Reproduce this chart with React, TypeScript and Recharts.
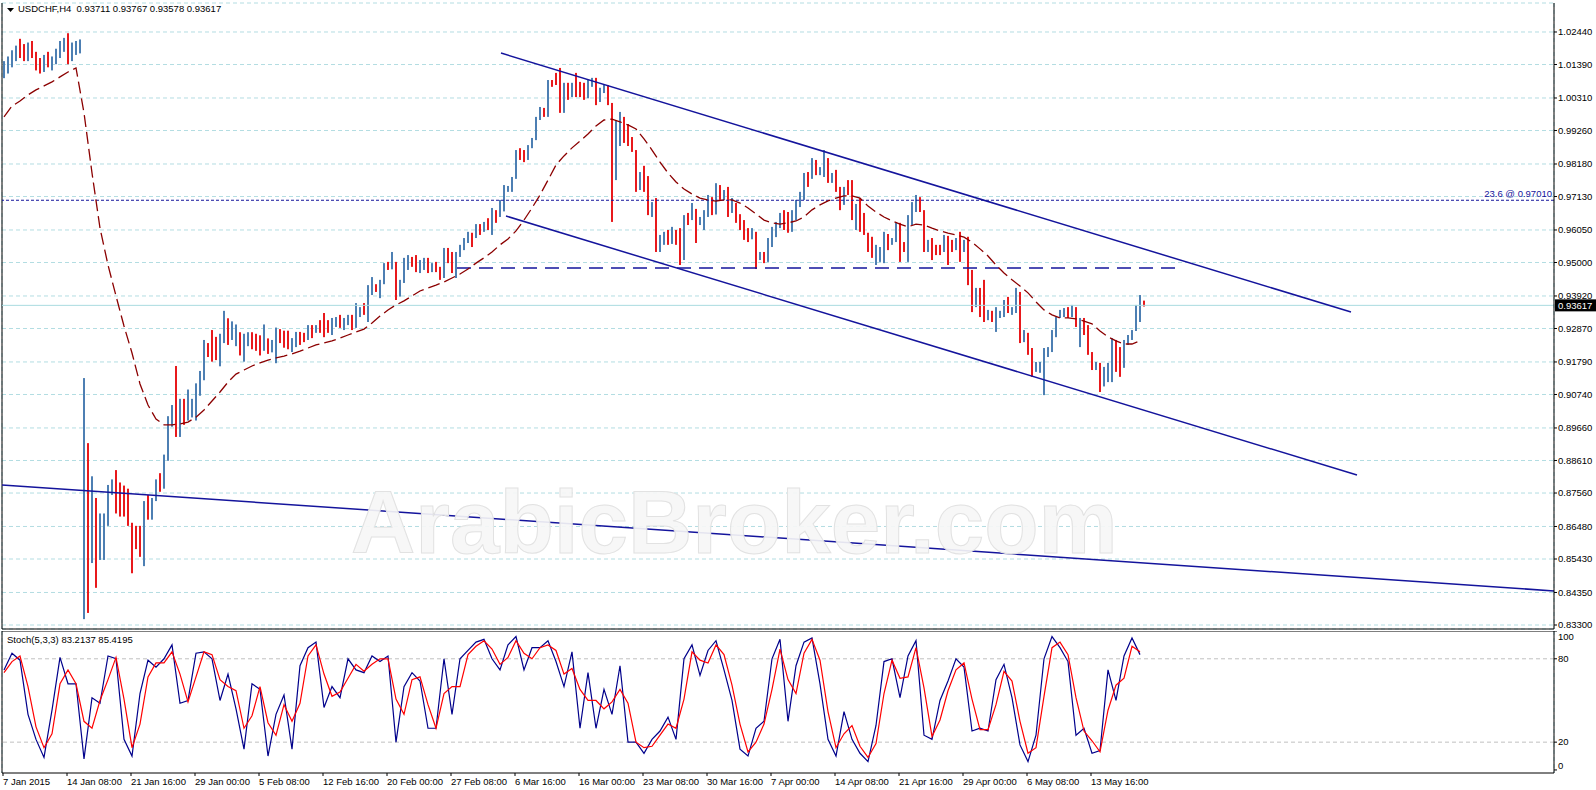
import React from "react";
import {
  ComposedChart,
  Bar,
  Line,
  XAxis,
  YAxis,
  CartesianGrid,
  ReferenceLine,
} from "recharts";

const FONT = "'Liberation Sans', Arial, sans-serif";
const GRID = "#b3dde2";
const NAVY = "#14149c";
const UP = "#4d7fb3";
const DOWN = "#e8191c";
const SLOTS = 776; // H4 slots across the plot

const barOpen = [
  10110, 10140, 10155, 10175, 10190, 10170, 10160, 10200, 10170, 10130,
  10120, 10160, 10140, 10150, 10180, 10200, 10210, 10150, 10190, 10200,
  8720, 8800, 8640, 8760, 8560, 8660, 8680, 8770, 8790, 8720,
  8700, 8695, 8660, 8600, 8590, 8560, 8710, 8690, 8735, 8790,
  8780, 8870, 8990, 9000, 8990, 9040, 8990, 9010, 9050, 9080,
  9140, 9240, 9205, 9200, 9195, 9240, 9320, 9250, 9265, 9270,
  9250, 9260, 9270, 9255, 9240, 9220, 9280, 9220, 9225, 9280,
  9250, 9240, 9230, 9250, 9266, 9256, 9253, 9295, 9273, 9295,
  9289, 9282, 9279, 9314, 9321, 9295, 9302, 9327, 9314, 9340,
  9353, 9347, 9421, 9430, 9411, 9437, 9495, 9482, 9502, 9392,
  9440, 9482, 9502, 9495, 9476, 9502, 9508, 9476, 9489, 9482,
  9456, 9540, 9521, 9476, 9524, 9553, 9576, 9586, 9579, 9621,
  9608, 9628, 9621, 9653, 9650, 9669, 9744, 9747, 9773, 9857,
  9840, 9831, 9873, 9899, 9966, 9983, 9976, 10083, 10076, 10073,
  10008, 10064, 10044, 10076, 10057, 10044, 10038, 10083, 10092, 10018,
  10060, 10070, 10015, 9815, 9944, 9970, 9947, 9879, 9863, 9782,
  9789, 9741, 9663, 9689, 9547, 9586, 9596, 9563, 9589, 9566,
  9515, 9647, 9640, 9673, 9637, 9643, 9663, 9711, 9660, 9750,
  9708, 9721, 9669, 9692, 9656, 9611, 9582, 9579, 9592, 9527,
  9531, 9521, 9573, 9608, 9628, 9656, 9618, 9605, 9663, 9698,
  9724, 9782, 9773, 9831, 9786, 9805, 9815, 9766, 9779, 9741,
  9686, 9737, 9734, 9653, 9663, 9618, 9596, 9540, 9521, 9537,
  9540, 9592, 9570, 9576, 9596, 9557, 9547, 9643, 9689, 9702,
  9669, 9547, 9570, 9557, 9553, 9550, 9586, 9557, 9540, 9573,
  9540, 9570, 9444, 9379, 9408, 9379, 9331, 9344, 9314, 9340,
  9344, 9353, 9347, 9353, 9405, 9250, 9263, 9211, 9147, 9176,
  9179, 9218, 9224, 9276, 9321, 9327, 9350, 9347, 9356, 9298,
  9314, 9273, 9211, 9160, 9176, 9105, 9137, 9169, 9234, 9169,
  9166, 9243, 9263, 9279, 9356, 9371,
];
const barHigh = [
  10150, 10165, 10185, 10200, 10222, 10205, 10210, 10215, 10180, 10160,
  10170, 10180, 10165, 10190, 10215, 10225, 10240, 10210, 10215, 10220,
  9127, 8917, 8810, 8740, 8690, 8690, 8782, 8800, 8830, 8790,
  8780, 8770, 8660, 8650, 8650, 8730, 8750, 8740, 8800, 8820,
  8880, 9004, 9040, 9166, 9060, 9060, 9090, 9060, 9110, 9150,
  9250, 9240, 9282, 9260, 9270, 9344, 9320, 9310, 9300, 9275,
  9270, 9275, 9275, 9270, 9265, 9300, 9255, 9250, 9290, 9285,
  9280, 9280, 9256, 9276, 9276, 9273, 9298, 9298, 9298, 9314,
  9337, 9314, 9321, 9324, 9331, 9321, 9331, 9331, 9369, 9356,
  9369, 9427, 9453, 9430, 9444, 9498, 9502, 9534, 9502, 9444,
  9515, 9524, 9518, 9524, 9508, 9515, 9515, 9498, 9502, 9486,
  9547, 9547, 9534, 9534, 9557, 9579, 9599, 9596, 9624, 9624,
  9631, 9643, 9676, 9669, 9702, 9750, 9747, 9776, 9863, 9869,
  9863, 9879, 9902, 9970, 10002, 9999, 10089, 10089, 10112, 10128,
  10080, 10080, 10080, 10112, 10083, 10080, 10089, 10096, 10096, 10064,
  10073, 10073, 10015, 9957, 9986, 9970, 9947, 9905, 9863, 9792,
  9812, 9779, 9695, 9708, 9589, 9599, 9605, 9615, 9605, 9611,
  9653, 9660, 9692, 9673, 9647, 9669, 9718, 9711, 9756, 9750,
  9734, 9744, 9708, 9692, 9656, 9637, 9611, 9611, 9599, 9534,
  9534, 9579, 9615, 9631, 9660, 9669, 9663, 9669, 9702, 9728,
  9789, 9792, 9837, 9831, 9808, 9863, 9837, 9789, 9799, 9744,
  9744, 9766, 9766, 9689, 9708, 9660, 9596, 9583, 9557, 9550,
  9599, 9592, 9579, 9628, 9628, 9566, 9653, 9695, 9718, 9711,
  9669, 9573, 9579, 9557, 9557, 9589, 9586, 9573, 9579, 9599,
  9573, 9583, 9476, 9418, 9418, 9444, 9347, 9344, 9356, 9344,
  9379, 9389, 9356, 9418, 9405, 9282, 9273, 9224, 9179, 9179,
  9224, 9227, 9282, 9324, 9347, 9353, 9356, 9363, 9356, 9321,
  9321, 9298, 9211, 9179, 9176, 9163, 9176, 9256, 9250, 9227,
  9250, 9266, 9282, 9363, 9395, 9377,
];
const barLow = [
  10095, 10110, 10130, 10150, 10160, 10150, 10150, 10160, 10120, 10110,
  10115, 10130, 10120, 10140, 10160, 10180, 10140, 10150, 10170, 10175,
  8349, 8369, 8530, 8450, 8540, 8540, 8650, 8750, 8690, 8680,
  8680, 8650, 8497, 8575, 8550, 8520, 8670, 8670, 8730, 8760,
  8770, 8860, 8970, 8937, 8937, 8976, 8990, 9000, 8990, 9070,
  9120, 9195, 9180, 9185, 9165, 9240, 9234, 9250, 9230, 9200,
  9180, 9230, 9220, 9215, 9200, 9215, 9205, 9210, 9175, 9240,
  9225, 9220, 9211, 9227, 9234, 9243, 9250, 9256, 9273, 9273,
  9259, 9273, 9266, 9292, 9289, 9282, 9298, 9282, 9289, 9324,
  9331, 9308, 9395, 9405, 9385, 9430, 9476, 9478, 9379, 9390,
  9434, 9476, 9486, 9469, 9466, 9476, 9466, 9469, 9469, 9444,
  9450, 9498, 9466, 9450, 9518, 9540, 9563, 9550, 9579, 9589,
  9599, 9605, 9589, 9628, 9647, 9665, 9728, 9728, 9770, 9831,
  9824, 9831, 9869, 9895, 9960, 9970, 9970, 10067, 10073, 9983,
  9983, 10025, 10034, 10034, 10034, 10025, 10030, 10067, 10008, 10018,
  10047, 10008, 9631, 9766, 9876, 9886, 9876, 9857, 9728, 9734,
  9728, 9653, 9647, 9534, 9534, 9557, 9557, 9560, 9557, 9492,
  9508, 9621, 9637, 9563, 9621, 9605, 9647, 9653, 9655, 9702,
  9702, 9647, 9660, 9628, 9605, 9573, 9566, 9575, 9479, 9508,
  9498, 9502, 9550, 9582, 9611, 9605, 9596, 9599, 9637, 9679,
  9702, 9744, 9770, 9782, 9782, 9776, 9757, 9757, 9728, 9669,
  9686, 9718, 9637, 9605, 9599, 9589, 9534, 9515, 9492, 9502,
  9498, 9540, 9557, 9566, 9502, 9534, 9502, 9621, 9663, 9663,
  9534, 9534, 9508, 9524, 9524, 9534, 9492, 9534, 9540, 9502,
  9534, 9427, 9340, 9356, 9324, 9308, 9314, 9308, 9276, 9321,
  9324, 9337, 9331, 9337, 9240, 9243, 9202, 9131, 9147, 9144,
  9072, 9195, 9211, 9259, 9321, 9324, 9321, 9324, 9292, 9227,
  9266, 9202, 9153, 9153, 9082, 9100, 9114, 9114, 9147, 9131,
  9160, 9234, 9250, 9279, 9308, 9358,
];
const barClose = [
  10140, 10155, 10175, 10190, 10170, 10160, 10200, 10170, 10130, 10120,
  10160, 10140, 10150, 10180, 10200, 10210, 10150, 10190, 10200, 10205,
  8800, 8640, 8760, 8560, 8660, 8680, 8770, 8790, 8720, 8700,
  8695, 8660, 8600, 8590, 8560, 8710, 8690, 8735, 8790, 8780,
  8870, 8990, 9000, 8990, 9040, 8990, 9010, 9050, 9080, 9140,
  9240, 9205, 9200, 9195, 9240, 9320, 9250, 9265, 9270, 9250,
  9260, 9270, 9255, 9240, 9220, 9280, 9220, 9225, 9280, 9250,
  9240, 9230, 9250, 9266, 9256, 9253, 9295, 9273, 9295, 9289,
  9282, 9279, 9314, 9321, 9295, 9302, 9327, 9314, 9340, 9353,
  9347, 9421, 9430, 9411, 9437, 9495, 9482, 9502, 9392, 9440,
  9482, 9502, 9495, 9476, 9502, 9508, 9476, 9489, 9482, 9456,
  9540, 9521, 9476, 9524, 9553, 9576, 9586, 9579, 9621, 9608,
  9628, 9621, 9653, 9650, 9669, 9744, 9747, 9773, 9857, 9840,
  9831, 9873, 9899, 9966, 9983, 9976, 10083, 10076, 10073, 10008,
  10064, 10044, 10076, 10057, 10044, 10038, 10083, 10092, 10018, 10060,
  10070, 10015, 9815, 9944, 9970, 9947, 9879, 9863, 9782, 9789,
  9741, 9663, 9689, 9547, 9586, 9596, 9563, 9589, 9566, 9515,
  9647, 9640, 9673, 9637, 9643, 9663, 9711, 9660, 9750, 9708,
  9721, 9669, 9692, 9656, 9611, 9582, 9579, 9592, 9527, 9531,
  9521, 9573, 9608, 9628, 9656, 9618, 9605, 9663, 9698, 9724,
  9782, 9773, 9831, 9786, 9805, 9815, 9766, 9779, 9741, 9686,
  9737, 9734, 9653, 9663, 9618, 9596, 9540, 9521, 9537, 9540,
  9592, 9570, 9576, 9596, 9557, 9547, 9643, 9689, 9702, 9669,
  9547, 9570, 9557, 9553, 9550, 9586, 9557, 9540, 9573, 9540,
  9570, 9444, 9379, 9408, 9379, 9331, 9344, 9314, 9340, 9344,
  9353, 9347, 9353, 9405, 9250, 9263, 9211, 9147, 9176, 9179,
  9218, 9224, 9276, 9321, 9327, 9350, 9347, 9356, 9298, 9314,
  9273, 9211, 9160, 9176, 9105, 9137, 9169, 9234, 9169, 9166,
  9243, 9263, 9279, 9356, 9373, 9362,
];

// moving average (dark red dashed), read at every second bar
const maEveryOther = [
  9970, 10005, 10021, 10041, 10057, 10070, 10083, 10099, 10115, 10128,
  9983, 9789, 9611, 9492, 9392, 9295, 9208, 9108, 9040, 8995,
  8976, 8976, 8979, 8985, 9001, 9024, 9053, 9082, 9114, 9140,
  9153, 9166, 9176, 9185, 9192, 9198, 9205, 9214, 9224, 9234,
  9240, 9247, 9256, 9266, 9276, 9285, 9305, 9327, 9347, 9363,
  9376, 9392, 9408, 9418, 9427, 9437, 9450, 9463, 9479, 9498,
  9515, 9534, 9557, 9576, 9602, 9637, 9676, 9718, 9766, 9815,
  9844, 9870, 9892, 9915, 9941, 9960, 9963, 9954, 9944, 9931,
  9899, 9863, 9824, 9789, 9760, 9737, 9721, 9708, 9702, 9698,
  9702, 9702, 9692, 9676, 9657, 9637, 9628, 9624, 9628, 9634,
  9647, 9670, 9686, 9699, 9708, 9715, 9715, 9708, 9682, 9663,
  9647, 9634, 9624, 9615, 9624, 9621, 9611, 9602, 9595, 9589,
  9582, 9566, 9544, 9521, 9492, 9466, 9444, 9424, 9402, 9373,
  9347, 9331, 9321, 9321, 9318, 9311, 9302, 9279, 9260, 9247,
  9237, 9237, 9247,
];

// Stoch(5,3,3), read at every second bar: main (blue) and signal (red)
const stochMain = [
  72, 84, 79, 40, 22, 9, 43, 81, 62, 62,
  8, 52, 48, 82, 80, 22, 10, 55, 79, 74,
  80, 90, 48, 50, 84, 85, 80, 50, 69, 44,
  15, 62, 58, 10, 40, 54, 15, 75, 88, 92,
  45, 60, 52, 80, 72, 70, 82, 78, 82, 20,
  60, 70, 64, 30, 30, 80, 40, 80, 86, 92,
  94, 80, 72, 90, 96, 72, 88, 88, 93, 78,
  60, 85, 30, 70, 30, 58, 40, 75, 20, 20,
  12, 22, 28, 38, 22, 80, 90, 68, 86, 93,
  72, 50, 15, 10, 30, 35, 80, 94, 35, 75,
  92, 95, 62, 22, 10, 42, 22, 12, 6, 32,
  78, 80, 52, 82, 93, 25, 22, 50, 64, 80,
  74, 28, 30, 28, 65, 76, 52, 18, 6, 25,
  80, 96, 88, 78, 25, 30, 12, 14, 72, 50,
  82, 95, 83,
];
const stochSignal = [
  70, 78, 82, 60, 31, 16, 26, 62, 72, 62,
  35, 30, 50, 65, 81, 51, 16, 33, 67, 77,
  77, 85, 69, 49, 67, 85, 83, 65, 60, 57,
  30, 39, 60, 34, 25, 47, 35, 48, 82, 90,
  69, 53, 56, 66, 76, 71, 76, 80, 80, 51,
  40, 65, 67, 47, 30, 55, 60, 60, 83, 89,
  93, 87, 76, 81, 93, 84, 80, 88, 90, 86,
  69, 73, 58, 50, 50, 44, 49, 58, 48, 20,
  16, 17, 25, 33, 30, 51, 85, 79, 77, 90,
  83, 61, 33, 13, 20, 33, 58, 87, 65, 55,
  84, 94, 79, 42, 16, 26, 32, 17, 9, 19,
  55, 79, 66, 67, 88, 59, 24, 36, 57, 72,
  77, 51, 29, 29, 47, 71, 64, 35, 12, 16,
  53, 88, 92, 83, 52, 28, 21, 13, 43, 61,
  66, 89, 85,
];

const priceTicks = [
  1.0244, 1.0139, 1.0031, 0.9926, 0.9818, 0.9713, 0.9605, 0.95, 0.9392, 0.9287,
  0.9179, 0.9074, 0.8966, 0.8861, 0.8756, 0.8648, 0.8543, 0.8435, 0.833,
];
const timeLabels = [
  "7 Jan 2015", "14 Jan 08:00", "21 Jan 16:00", "29 Jan 00:00", "5 Feb 08:00",
  "12 Feb 16:00", "20 Feb 00:00", "27 Feb 08:00", "6 Mar 16:00", "16 Mar 00:00",
  "23 Mar 08:00", "30 Mar 16:00", "7 Apr 00:00", "14 Apr 08:00", "21 Apr 16:00",
  "29 Apr 00:00", "6 May 08:00", "13 May 16:00",
];

const lastPrice = 0.93617;
const fiboLevel = 0.9701;
const supportLevel = 0.9482;
const supportSpan = [227.5, 589.5];
const trendLines = [
  [{ x: 249.5, y: 1.0176 }, { x: 674.5, y: 0.934 }],
  [{ x: 252, y: 0.965 }, { x: 677.5, y: 0.8814 }],
  [{ x: 0, y: 0.8782 }, { x: 776, y: 0.844 }],
];

const PRICE_DOMAIN = [0.83171, 1.03376];
const gridSlots = Array.from({ length: 49 }, (_, k) => 0.5 + 16 * k);
const timeTicks = timeLabels.map((_, k) => 0.5 + 32 * k);

const bars = barClose.map((c, i) => ({
  slot: 1 + 2 * i,
  range: [barLow[i] / 10000, barHigh[i] / 10000],
  up: c >= barOpen[i],
  ma: i % 2 === 0 ? maEveryOther[i / 2] / 10000 : null,
}));
const stochRows = stochMain.map((k, i) => ({
  slot: 1 + 4 * i,
  k,
  d: stochSignal[i],
}));

const txt = { fontFamily: FONT, fontSize: 9.5, fill: "#000" };

function OhlcBar(props: any) {
  const { x, y, width, height, payload } = props;
  if (x == null || y == null || isNaN(y)) return null;
  const cx = Math.round(x + width / 2);
  return (
    <rect
      x={cx - 1}
      y={y}
      width={2}
      height={Math.max(1, height)}
      fill={payload.up ? UP : DOWN}
    />
  );
}

function PriceTick(props: any) {
  return (
    <text x={props.x} y={props.y} dy="0.35em" {...txt}>
      {Number(props.payload.value).toFixed(5)}
    </text>
  );
}

// 100 and 0 labels are kept inside the pane, as the terminal does
function StochTick(props: any) {
  const y = Math.min(Math.max(props.y, 6), 135);
  return (
    <text x={props.x} y={y} dy="0.35em" {...txt}>
      {props.payload.value}
    </text>
  );
}

function TimeTick(props: any) {
  return (
    <text x={props.x} y={props.y} dy="0.71em" {...txt}>
      {timeLabels[props.index]}
    </text>
  );
}

function PriceBadge(props: any) {
  const vb = props.viewBox;
  const x = vb.x + vb.width;
  return (
    <g>
      <rect x={x + 1} y={vb.y - 6} width={41} height={12} fill="#000" />
      <text x={x + 4} y={vb.y} dy="0.35em" {...txt} fill="#fff">
        {lastPrice.toFixed(5)}
      </text>
    </g>
  );
}

function FiboLabel(props: any) {
  const vb = props.viewBox;
  return (
    <text
      x={vb.x + vb.width - 2}
      y={vb.y - 3}
      textAnchor="end"
      {...txt}
      fill={NAVY}
    >
      {`23.6 @ ${fiboLevel.toFixed(5)}`}
    </text>
  );
}

export default function App() {
  return (
    <div
      style={{
        position: "fixed",
        left: 0,
        top: 0,
        width: 1596,
        height: 790,
        background: "#fff",
        overflow: "hidden",
      }}
    >
      <div style={{ position: "absolute", left: 0, top: 0 }}>
        <ComposedChart
          width={1596}
          height={632}
          data={bars}
          margin={{ top: 3, right: 0, bottom: 3, left: 2 }}
        >
          <CartesianGrid stroke={GRID} strokeDasharray="4 3" />
          <XAxis
            type="number"
            dataKey="slot"
            domain={[0, SLOTS]}
            ticks={gridSlots}
            height={0}
            tick={false}
            tickLine={false}
            axisLine={false}
            allowDataOverflow
          />
          <YAxis
            orientation="right"
            width={42}
            domain={PRICE_DOMAIN}
            ticks={priceTicks}
            interval={0}
            allowDataOverflow
            tickSize={3}
            tickMargin={1}
            tick={<PriceTick />}
            axisLine={{ stroke: "#000" }}
            tickLine={{ stroke: "#000" }}
          />
          <ReferenceLine x={0} stroke="#000" />
          <ReferenceLine y={PRICE_DOMAIN[0]} stroke="#000" />
          <ReferenceLine y={lastPrice} stroke="#a9dbe0" label={<PriceBadge />} />
          <ReferenceLine
            y={fiboLevel}
            stroke={NAVY}
            strokeWidth={1.2}
            strokeDasharray="3 2"
            label={<FiboLabel />}
          />
          <ReferenceLine
            segment={[
              { x: supportSpan[0], y: supportLevel },
              { x: supportSpan[1], y: supportLevel },
            ]}
            stroke={NAVY}
            strokeWidth={1.5}
            strokeDasharray="14 8"
          />
          {trendLines.map((seg, i) => (
            <ReferenceLine key={i} segment={seg} stroke={NAVY} strokeWidth={1.5} />
          ))}
          <Bar
            dataKey="range"
            barSize={2}
            shape={<OhlcBar />}
            isAnimationActive={false}
          />
          <Line
            dataKey="ma"
            type="linear"
            connectNulls
            dot={false}
            stroke="#8b0000"
            strokeWidth={1.3}
            strokeDasharray="12 5"
            isAnimationActive={false}
          />
        </ComposedChart>
      </div>

      <div style={{ position: "absolute", left: 0, top: 631 }}>
        <ComposedChart
          width={1596}
          height={159}
          data={stochRows}
          margin={{ top: 0, right: 0, bottom: 0, left: 2 }}
        >
          <CartesianGrid
            xAxisId="grid"
            horizontal={false}
            stroke={GRID}
            strokeDasharray="4 3"
          />
          <XAxis
            xAxisId="time"
            type="number"
            dataKey="slot"
            domain={[0, SLOTS]}
            ticks={timeTicks}
            interval={0}
            height={17}
            tickSize={3}
            tickMargin={2}
            tick={<TimeTick />}
            tickLine={{ stroke: "#000" }}
            axisLine={{ stroke: "#000" }}
            allowDataOverflow
          />
          <XAxis
            xAxisId="grid"
            type="number"
            dataKey="slot"
            domain={[0, SLOTS]}
            ticks={gridSlots}
            height={0}
            tick={false}
            tickLine={false}
            axisLine={false}
            allowDataOverflow
          />
          <YAxis
            orientation="right"
            width={42}
            domain={[-2.2, 100]}
            ticks={[0, 20, 80, 100]}
            interval={0}
            allowDataOverflow
            tickSize={3}
            tickMargin={1}
            tick={<StochTick />}
            axisLine={{ stroke: "#000" }}
            tickLine={{ stroke: "#000" }}
          />
          <ReferenceLine xAxisId="time" x={0} stroke="#000" />
          <ReferenceLine xAxisId="time" y={100} stroke="#000" />
          <ReferenceLine xAxisId="time" y={80} stroke="#c0c0c0" strokeDasharray="4 3" />
          <ReferenceLine xAxisId="time" y={20} stroke="#c0c0c0" strokeDasharray="4 3" />
          <Line
            xAxisId="time"
            dataKey="k"
            type="linear"
            dot={false}
            stroke="#00008b"
            strokeWidth={1.2}
            isAnimationActive={false}
          />
          <Line
            xAxisId="time"
            dataKey="d"
            type="linear"
            dot={false}
            stroke="#ff0000"
            strokeWidth={1.2}
            isAnimationActive={false}
          />
        </ComposedChart>
      </div>

      <svg
        width={14}
        height={10}
        style={{ position: "absolute", left: 5, top: 5 }}
      >
        <polygon points="2,3 9,3 5.5,7" fill="#000" />
      </svg>
      <div
        style={{
          position: "absolute",
          left: 18,
          top: 3,
          fontFamily: FONT,
          fontSize: 9.5,
          whiteSpace: "pre",
          color: "#000",
        }}
      >
        {"USDCHF,H4  0.93711 0.93767 0.93578 0.93617"}
      </div>
      <div
        style={{
          position: "absolute",
          left: 7,
          top: 634,
          fontFamily: FONT,
          fontSize: 9.5,
          whiteSpace: "pre",
          color: "#000",
        }}
      >
        {"Stoch(5,3,3) 83.2137 85.4195"}
      </div>
      <div
        style={{
          position: "absolute",
          left: 351,
          top: 478,
          fontFamily: FONT,
          fontWeight: 700,
          fontSize: 89,
          lineHeight: 1,
          whiteSpace: "pre",
          color: "rgba(246,246,246,0.92)",
          WebkitTextStroke: "1px #e2e2e2",
        }}
      >
        ArabicBroker.com
      </div>
    </div>
  );
}
